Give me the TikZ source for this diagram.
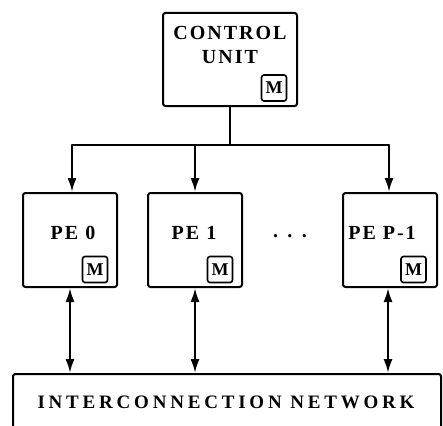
\documentclass[tikz,border=0pt]{standalone}
\usepackage{fontspec}
\setmainfont{Liberation Serif}
\usetikzlibrary{arrows.meta}
\tikzset{
  x=1pt, y=-1pt,
  wire/.style={line width=2.1pt},
  tip/.style={-{Latex[length=14pt,width=9pt]}},
  biarrow/.style={{Latex[length=14pt,width=9pt]}-{Latex[length=14pt,width=9pt]}},
  unitbox/.style={draw, line width=2pt, rounded corners=2.5pt, inner sep=0pt},
  membox/.style={draw, line width=1.6pt, rounded corners=2.5pt, minimum width=25pt,
    minimum height=26pt, inner sep=0pt, font=\fontsize{18}{18}\selectfont\bfseries},
  caps/.style={font=\fontsize{20}{20}\selectfont\bfseries\addfontfeatures{LetterSpace=10}}
}
\begin{document}
\begin{tikzpicture}
\useasboundingbox (0,0) rectangle (443,425);
\clip (0,0) rectangle (443,425);

% control unit
\node[unitbox, minimum width=134pt, minimum height=93pt] (cu) at (230,59.5) {};
\node[caps] (cutxt1) at (230,33) {CONTROL};
\node[caps] (cutxt2) at (230,57) {UNIT};
\node[membox] (cum) at (274,88) {M};

% processing elements
\node[unitbox, minimum width=94pt, minimum height=94pt] (pe0) at (70,240) {};
\node[unitbox, minimum width=94pt, minimum height=94pt] (pe1) at (195,240) {};
\node[unitbox, minimum width=94pt, minimum height=94pt] (pep) at (390,240) {};
\node[caps] (pe0t) at (73,233) {PE 0};
\node[caps] (pe1t) at (194,233) {PE 1};
\node[caps] (pept) at (382,233) {PE P-1};
\node[membox] (pe0m) at (95,269.5) {M};
\node[membox] (pe1m) at (220,269.5) {M};
\node[membox] (pepm) at (413.5,269.5) {M};
\node[caps] (dots) at (290,236) {. . .};

% interconnection network (runs past the lower edge)
\node[unitbox, minimum width=428pt, minimum height=58pt, anchor=north west] (net) at (12,373) {};
\node[font=\fontsize{19}{19}\selectfont\bfseries\addfontfeatures{LetterSpace=20}] (nettxt) at (226,402) {INTERCONNECTION NETWORK};

% broadcast bus from the control unit
\coordinate (b0) at (72,145);
\coordinate (b1) at (195,145);
\coordinate (b2) at (389,145);
\draw[wire] (cu.south) -- (cu.south |- b0);
\draw[wire, line cap=round] (b0) -- (b2);
\draw[wire, tip] (b0) -- (b0 |- pe0.north);
\draw[wire, tip] (b1) -- (b1 |- pe1.north);
\draw[wire, tip] (b2) -- (b2 |- pep.north);

% links to the network
\coordinate (n0) at (70,0);
\coordinate (n1) at (195,0);
\coordinate (n2) at (388,0);
\draw[wire, biarrow] (n0 |- pe0.south) -- (n0 |- net.north);
\draw[wire, biarrow] (n1 |- pe1.south) -- (n1 |- net.north);
\draw[wire, biarrow] (n2 |- pep.south) -- (n2 |- net.north);
\end{tikzpicture}
\end{document}
